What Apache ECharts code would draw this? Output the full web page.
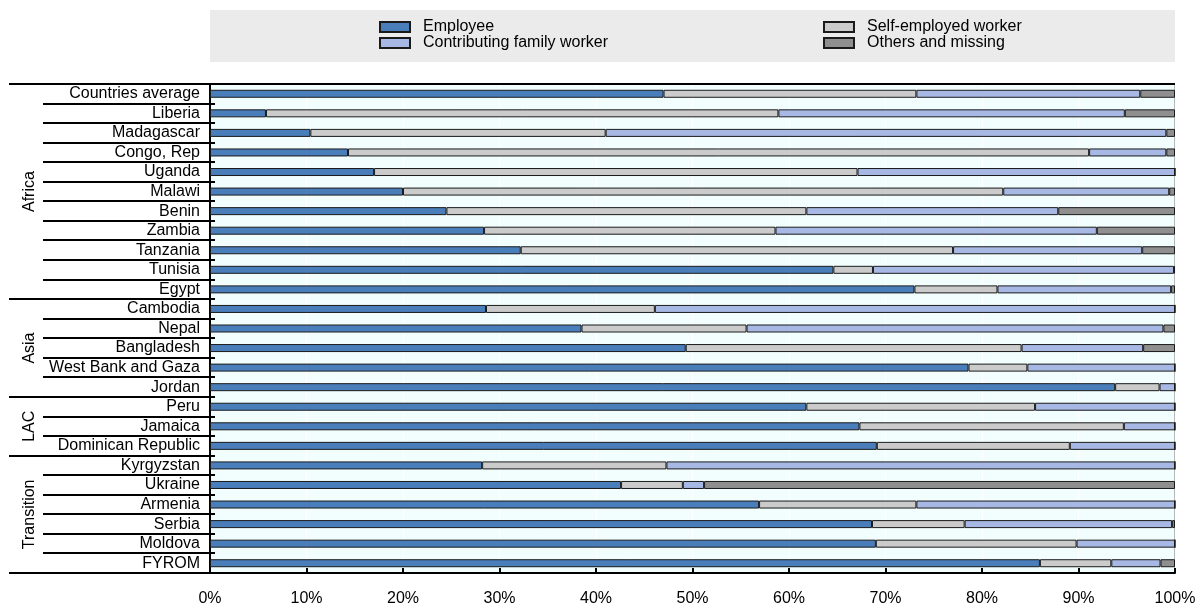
<!DOCTYPE html>
<html>
<head>
<meta charset="utf-8">
<script src="https://cdn.jsdelivr.net/npm/echarts@6/dist/echarts.min.js"></script>
<style>
    html, body { margin: 0; padding: 0; background: #fff; }
    #main { width: 1196px; height: 605px; }
</style>
</head>
<body>
<div id="main"></div>
<script>
const countries = ['Countries average', 'Liberia', 'Madagascar', 'Congo, Rep', 'Uganda', 'Malawi', 'Benin',
    'Zambia', 'Tanzania', 'Tunisia', 'Egypt', 'Cambodia', 'Nepal', 'Bangladesh', 'West Bank and Gaza', 'Jordan',
    'Peru', 'Jamaica', 'Dominican Republic', 'Kyrgyzstan', 'Ukraine', 'Armenia', 'Serbia', 'Moldova', 'FYROM'];

// shares in %
const employee = [47.0, 5.8, 10.4, 14.3, 17.0, 20.0, 24.5, 28.4, 32.2, 64.6, 73.0,
    28.6, 38.5, 49.3, 78.6, 93.8, 61.8, 67.3, 69.1, 28.2, 42.6, 56.9, 68.6, 69.0, 86.0];
const selfEmployed = [26.2, 53.1, 30.6, 76.8, 50.1, 62.2, 37.3, 30.2, 44.8, 4.1, 8.6,
    17.5, 17.1, 34.8, 6.1, 4.6, 23.7, 27.4, 20.0, 19.1, 6.4, 16.3, 9.6, 20.8, 7.4];
const familyWorker = [23.2, 35.9, 58.1, 8.0, 32.9, 17.2, 26.1, 33.3, 19.6, 31.2, 18.0,
    53.9, 43.2, 12.6, 15.3, 1.6, 14.5, 5.3, 10.9, 52.7, 2.2, 26.8, 21.5, 10.2, 5.1];
const othersMissing = [3.6, 5.2, 0.9, 0.9, 0, 0.6, 12.1, 8.1, 3.4, 0.1, 0.4,
    0, 1.2, 3.3, 0, 0, 0, 0, 0, 0, 48.8, 0, 0.3, 0, 1.5];

const groupNames = ['Africa', 'Asia', 'LAC', 'Transition'];
const groupSizes = [11, 5, 3, 6];

const font = "'Liberation Sans', Arial, sans-serif";
const chart = echarts.init(document.getElementById('main'));

function barSeries(name, data, color) {
    return {
        name: name,
        type: 'bar',
        stack: 'total',
        data: data,
        barWidth: 8,
        itemStyle: { color: color, borderColor: '#1a1a1a', borderWidth: 1 },
        emphasis: { disabled: true }
    };
}

function legendBlock(names, left) {
    return {
        data: names,
        orient: 'vertical', left: left, top: 14,
        icon: 'rect',
        itemWidth: 30, itemHeight: 10, itemGap: 0,
        textStyle: { fontSize: 16, color: '#000', fontFamily: font, padding: [0, 0, 0, 8] },
        selectedMode: false
    };
}

chart.setOption({
    animation: false,
    textStyle: { fontFamily: font },
    legend: [
        legendBlock(['Employee', 'Contributing family worker'], 374),
        legendBlock(['Self-employed worker', 'Others and missing'], 818)
    ],
    grid: {
        left: 210, right: 21, top: 84, bottom: 32,
        outerBoundsMode: 'none', containLabel: false,
        show: true, backgroundColor: '#f2fefe', borderColor: '#777', borderWidth: 1
    },
    xAxis: {
        type: 'value', min: 0, max: 100, interval: 10,
        axisLabel: { formatter: '{value}%', fontSize: 16, color: '#000', margin: 18, fontFamily: font },
        axisLine: { show: true, lineStyle: { color: '#000', width: 2 } },
        axisTick: { show: true, inside: true, length: 5, lineStyle: { color: '#000', width: 2 } },
        splitLine: { show: true, lineStyle: { color: '#ffffff', width: 1 } }
    },
    yAxis: {
        type: 'category', data: countries, inverse: true,
        axisLabel: { interval: 0, fontSize: 16, color: '#000', margin: 10, fontFamily: font },
        axisLine: { show: true, lineStyle: { color: '#000', width: 2 } },
        axisTick: { show: false }
    },
    series: [
        barSeries('Employee', employee, '#4a7ebb'),
        barSeries('Self-employed worker', selfEmployed, '#cbcbcb'),
        barSeries('Contributing family worker', familyWorker, '#a6b8e3'),
        barSeries('Others and missing', othersMissing, '#8f8f8f')
    ]
});

// separators and group labels placed from the category axis
function boundary(i) {
    const a = chart.convertToPixel({ yAxisIndex: 0 }, 0);
    const b = chart.convertToPixel({ yAxisIndex: 0 }, 1);
    const band = b - a;
    return a - band / 2 + band * i;
}

const xLeft = chart.convertToPixel({ xAxisIndex: 0 }, 0);
const xRight = chart.convertToPixel({ xAxisIndex: 0 }, 100);
const graphics = [{
    type: 'rect', z: -1,
    shape: { x: xLeft, y: 10, width: xRight - xLeft, height: 52 },
    style: { fill: '#ebebeb' }
}];

const groupStarts = [0];
groupSizes.forEach(function (s, i) { groupStarts.push(groupStarts[i] + s); });

for (let i = 0; i <= countries.length; i++) {
    const y = Math.round(boundary(i));
    const isGroup = groupStarts.indexOf(i) >= 0;
    graphics.push({
        type: 'line', z: 10,
        shape: { x1: isGroup ? 9 : 43, y1: y, x2: (i === 0 || i === countries.length) ? xRight : xLeft + 5, y2: y },
        style: { stroke: '#000', lineWidth: 2 }
    });
}

groupNames.forEach(function (name, g) {
    const yMid = (boundary(groupStarts[g]) + boundary(groupStarts[g + 1])) / 2;
    graphics.push({
        type: 'text', z: 10,
        x: 30, y: yMid, rotation: Math.PI / 2,
        style: { text: name, fontSize: 16, fontFamily: font, fill: '#000', align: 'center', verticalAlign: 'middle' }
    });
});

chart.setOption({ graphic: graphics });
</script>
</body>
</html>
